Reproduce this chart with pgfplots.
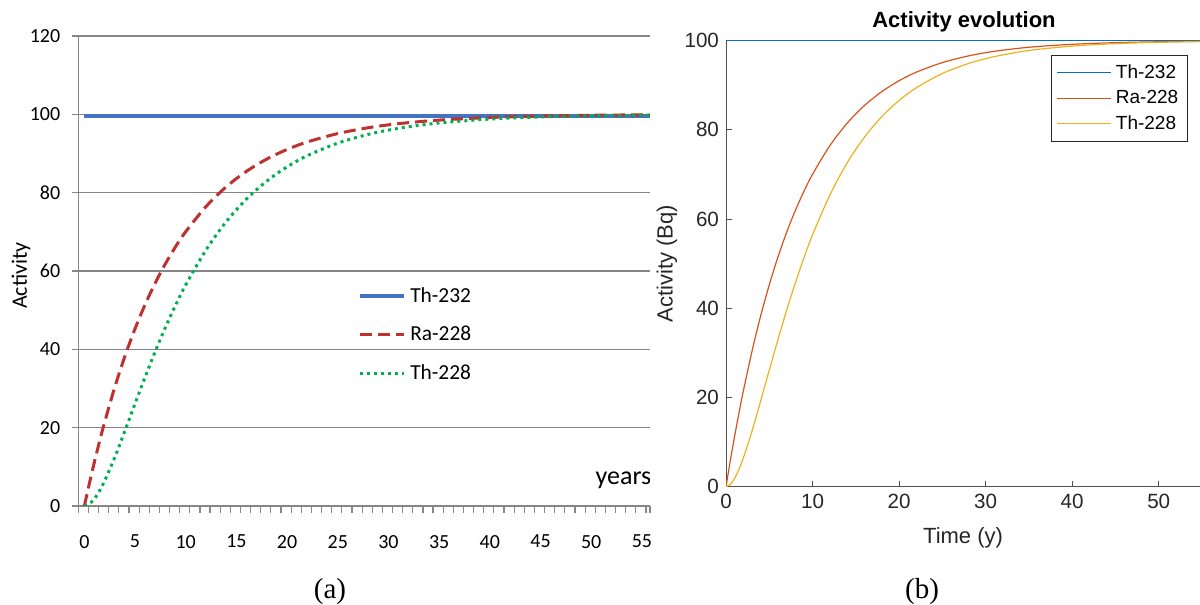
\documentclass[border=0pt]{standalone}
\usepackage{pgfplots}
\pgfplotsset{compat=1.18}
\usepackage{fontspec}
\setmainfont{Liberation Serif}
\newfontfamily\carlito{Carlito}
\newfontfamily\arialf{Liberation Sans}
\definecolor{xlblue}{RGB}{68,114,196}
\definecolor{xlred}{RGB}{192,48,48}
\definecolor{xlgreen}{RGB}{0,176,80}
\definecolor{gridgray}{RGB}{134,134,134}
\definecolor{mblue}{rgb}{0,0.447,0.741}
\definecolor{morange}{rgb}{0.85,0.325,0.098}
\definecolor{myellow}{rgb}{0.929,0.694,0.125}
\definecolor{axgray}{RGB}{38,38,38}

\pgfplotstableread{
t Th232 Ra228 Th228
0 99.5 0 0
0.5 99.5 5.85 0.51
1 99.5 11.36 1.87
1.5 99.5 16.54 3.89
2 99.5 21.42 6.41
3 99.5 30.35 12.44
4 99.5 38.26 19.19
5 99.5 45.27 26.14
6 99.5 51.49 32.98
7 99.5 57.00 39.51
8 99.5 61.88 45.63
9 99.5 66.21 51.29
10 99.5 70.05 56.46
12 99.5 76.46 65.38
14 99.5 81.51 72.61
16 99.5 85.47 78.38
18 99.5 88.58 82.97
20 99.5 91.03 86.60
22 99.5 92.95 89.46
25 99.5 95.09 92.65
28 99.5 96.58 94.88
31 99.5 97.62 96.43
35 99.5 98.53 97.80
40 99.5 99.19 98.79
45 99.5 99.56 99.34
50 99.5 99.76 99.64
55 99.5 99.87 99.80
56 99.5 99.88 99.82
}\datatableA

\pgfplotstableread{
t Th232 Ra228 Th228
0 100 0 0
0.5 100 5.85 0.51
1 100 11.36 1.87
1.5 100 16.54 3.89
2 100 21.42 6.41
3 100 30.35 12.44
4 100 38.26 19.19
5 100 45.27 26.14
6 100 51.49 32.98
7 100 57.00 39.51
8 100 61.88 45.63
9 100 66.21 51.29
10 100 70.05 56.46
12 100 76.46 65.38
14 100 81.51 72.61
16 100 85.47 78.38
18 100 88.58 82.97
20 100 91.03 86.60
22 100 92.95 89.46
25 100 95.09 92.65
28 100 96.58 94.88
31 100 97.62 96.43
35 100 98.53 97.80
40 100 99.19 98.79
45 100 99.56 99.34
50 100 99.76 99.64
55 100 99.87 99.80
}\datatableB

\begin{document}
\begin{tikzpicture}
\useasboundingbox (0,0) rectangle (600pt,302.5pt);

% ---------- panel (a) ----------
\begin{axis}[
  at={(39.15pt,49.5pt)}, anchor=south west,
  scale only axis, width=285.85pt, height=235pt,
  xmin=-0.6, xmax=55.8, ymin=0, ymax=120,
  axis lines=left,
  axis line style={-, draw=gridgray, line width=0.75pt},
  ytick={0,20,...,120},
  ymajorgrids, grid style={gridgray, line width=0.75pt},
  xtick={0,5,...,55},
  minor xtick={-0.6,0.4,...,55.4,55.8},
  tick align=outside,
  major tick length=3pt, minor tick length=3.5pt,
  x tick style={draw=none},
  y tick style={gridgray, line width=0.75pt},
  minor x tick style={draw=gridgray, line width=0.6pt},
  /pgf/number format/assume math mode=true,
  ticklabel style={font=\carlito\fontsize{10}{12}\selectfont, text=black},
  xticklabel style={yshift=-8pt},
  yticklabel style={xshift=-2.5pt},
  ylabel={Activity},
  ylabel style={font=\carlito\fontsize{11}{13}\selectfont, at={(axis description cs:-0.10,0.49)}, anchor=center},
  legend image code/.code={\draw[#1] (0pt,0pt) -- (22pt,0pt);},
  legend style={at={(rel axis cs:0.489,0.475)}, anchor=north west, draw=none, fill=none,
    font=\carlito\fontsize{10.7}{12}\selectfont, row sep=6.5pt, inner sep=0pt},
  legend cell align=left,
]
\addplot[xlblue, line width=2pt] table[x=t, y=Th232] {\datatableA};
\addlegendentry{Th-232}
\addplot[xlred, line width=1.5pt, dash pattern=on 6pt off 3pt, smooth] table[x=t, y=Ra228] {\datatableA};
\addlegendentry{Ra-228}
\addplot[xlgreen, line width=1.5pt, dash pattern=on 1.5pt off 2pt, smooth] table[x=t, y=Th228] {\datatableA};
\addlegendentry{Th-228}
\node[font=\carlito\fontsize{13}{15}\selectfont, anchor=east, inner sep=0pt] at (rel axis cs:1.003,0.054) {years};
\end{axis}

% ---------- panel (b) ----------
\begin{axis}[
  at={(363pt,59.15pt)}, anchor=south west,
  scale only axis, width=238pt, height=223pt,
  xmin=0, xmax=55, ymin=0, ymax=100,
  axis lines=left,
  axis line style={-, draw=axgray!80, line width=0.5pt},
  xtick={0,10,...,50}, ytick={0,20,...,100},
  tick align=inside, major tick length=2.8pt,
  tick style={axgray!80, line width=0.5pt},
  /pgf/number format/assume math mode=true,
  ticklabel style={font=\arialf\fontsize{10.3}{12}\selectfont, text=axgray},
  every axis title shift=0pt,
  title={Activity evolution},
  title style={font=\arialf\bfseries\fontsize{11}{13}\selectfont, at={(axis description cs:0.5,1.042)}, anchor=center},
  xlabel={Time (y)},
  xlabel style={font=\arialf\fontsize{11}{13}\selectfont, text=axgray, at={(axis description cs:0.498,-0.114)}, anchor=center},
  ylabel={Activity (Bq)},
  ylabel style={font=\arialf\fontsize{11}{13}\selectfont, text=axgray, at={(axis description cs:-0.124,0.50)}, anchor=center},
  legend image code/.code={\draw[#1] (0pt,0pt) -- (27pt,0pt);},
  legend style={at={(rel axis cs:0.970,0.968)}, anchor=north east, draw=axgray, line width=0.5pt, fill=white,
    font=\arialf\fontsize{9.5}{11}\selectfont, row sep=0.5pt, inner sep=2.5pt},
  legend cell align=left,
]
\addplot[mblue, line width=0.6pt] table[x=t, y=Th232] {\datatableB};
\addlegendentry{Th-232}
\addplot[morange, line width=0.6pt, smooth] table[x=t, y=Ra228] {\datatableB};
\addlegendentry{Ra-228}
\addplot[myellow, line width=0.6pt, smooth] table[x=t, y=Th228] {\datatableB};
\addlegendentry{Th-228}
\end{axis}

\node[font=\fontsize{14.5}{17}\selectfont] at (165pt,6.5pt) {(a)};
\node[font=\fontsize{14.5}{17}\selectfont] at (461pt,6.5pt) {(b)};
\end{tikzpicture}
\end{document}
